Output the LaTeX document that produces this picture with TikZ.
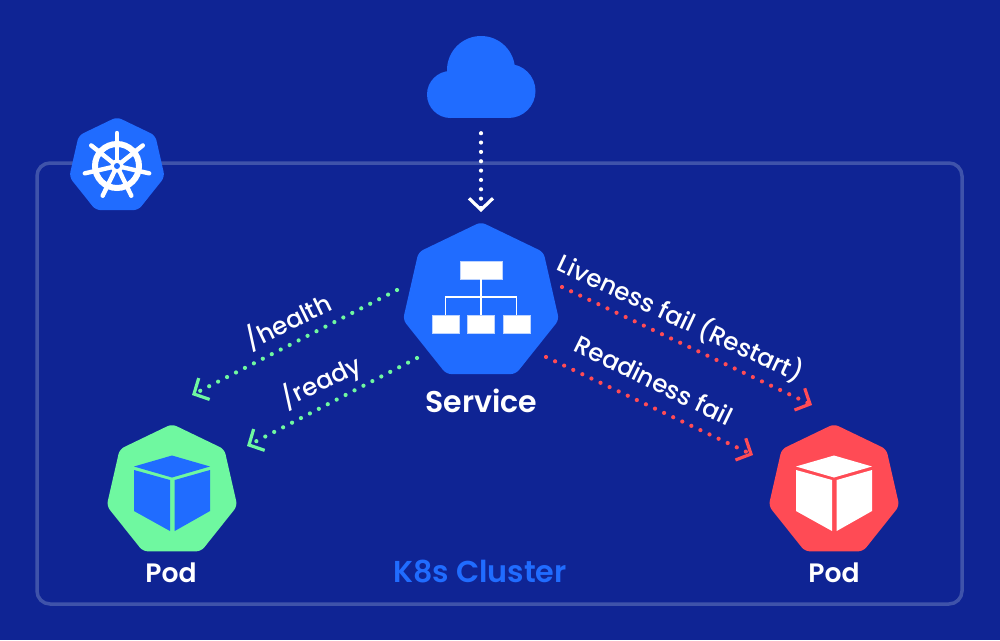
\documentclass[tikz,border=0pt]{standalone}
\usepackage{fontspec}
\setmainfont{Poppins}
\newfontfamily\mediumfont{Poppins Medium}
\newfontfamily\heavyfont{Poppins SemiBold}
\usetikzlibrary{arrows.meta,shapes.geometric}
\definecolor{navy}{HTML}{0F2494}
\definecolor{frame}{HTML}{3F53AA}
\definecolor{k8sblue}{HTML}{206CFF}
\definecolor{okgreen}{HTML}{6FF8A0}
\definecolor{badred}{HTML}{FF4B55}
\tikzset{
	hepta/.style={regular polygon, regular polygon sides=7, inner sep=0pt, outer sep=0pt, rounded corners=5pt, minimum size=#1},
	iconbox/.style={fill=white, draw=white!70!k8sblue, line width=0.6pt, inner sep=0pt, minimum height=18pt},
	flow/.style={line width=4.2pt, line cap=round, dash pattern=on 0pt off 10.05pt, color=#1,
		-{Straight Barb[length=11.5pt, width=24pt, line width=3.2pt, color=#1]}},
	probe/.style={text=white, font=\mediumfont\fontsize{24.6}{28}\selectfont, inner sep=0pt},
	caption/.style={text=white, font=\heavyfont\fontsize{#1}{#1}\selectfont, inner sep=0pt},
	cube/.pic={
		\fill [#1] (0,-35.5) -- (38,-24.5) -- (0,-13.5) -- (-38,-24.5) -- cycle;
		\fill [#1] (-38,-21) -- (-2,-11) -- (-2,40) -- (-38,20) -- cycle;
		\fill [#1] (2.7,-11) -- (38,-21) -- (38,20) -- (2.7,40) -- cycle;
	}
}
\begin{document}
\begin{tikzpicture}[x=1pt, y=-1pt]
	\fill [navy] (0,0) rectangle (1000,640);
	\useasboundingbox (0,0) rectangle (1000,640);
	\draw [frame, line width=3.5pt, rounded corners=13pt] (37,163) rectangle (962,604);
	% cloud
	\fill [k8sblue] (481,70) circle (34);
	\fill [k8sblue] (450.5,94.5) circle (23.5);
	\fill [k8sblue] (508.5,91) circle (27);
	\fill [k8sblue] (450,90) rectangle (508,118);
	\node (cloud) [inner sep=0pt, minimum width=109pt, minimum height=82pt] at (481,77) {};
	% helm badge
	\node (badge) [hepta=98pt, fill=k8sblue] at (117,166) {};
	\draw [white, line width=6pt] (badge.center) circle (22);
	\foreach \k in {0,...,6} {
		\draw [white, line width=4.4pt, line cap=round] (badge.center) -- ++({-90+\k*360/7}:33);
	}
	\fill [white] (badge.center) circle (6.5);
	\fill [k8sblue] (badge.center) circle (3);
	% service
	\node (service) [hepta=160pt, fill=k8sblue] at (481,302) {};
	\node (root) [iconbox, minimum width=42pt] at (481,270) {};
	\node (leafa) [iconbox, minimum width=27pt] at (445.7,324) {};
	\node (leafb) [iconbox, minimum width=27pt] at (481,324) {};
	\node (leafc) [iconbox, minimum width=27pt] at (516.5,324) {};
	\draw [white, line width=1.4pt] (root.south) -- (leafb.north);
	\draw [white, line width=1.4pt] (leafa.north) |- (leafc.north |- 0,297) -- (leafc.north);
	\node (serviceLabel) [caption=30] at (481.5,401) {Service};
	% pods
	\node (podOk) [hepta=134pt, fill=okgreen] at (172,491) {};
	\pic at (podOk.center) {cube=k8sblue};
	\node (podOkLabel) [caption=26.6] at (171,573) {Pod};
	\node (podBad) [hepta=134pt, fill=badred] at (834,491) {};
	\pic at (podBad.center) {cube=white};
	\node (podBadLabel) [caption=26.6] at (834,573) {Pod};
	\node (clusterLabel) [text=k8sblue, font=\heavyfont\fontsize{30.2}{32}\selectfont, inner sep=0pt] at (480,572) {K8s Cluster};
	% connectors
	\draw [flow=white, dash pattern=on 0pt off 9.35pt, shorten <=15pt, shorten >=0pt] (cloud.south) -- (481,212);
	\draw [flow=okgreen] ([shift={(-84,-12)}]service.center) -- ([shift={(20,-96)}]podOk.center);
	\draw [flow=okgreen] ([shift={(-64,56)}]service.center) -- ([shift={(75,-45)}]podOk.center);
	\draw [flow=badred] ([shift={(81,-15)}]service.center) -- ([shift={(-22,-86)}]podBad.center);
	\draw [flow=badred] ([shift={(65,55)}]service.center) -- ([shift={(-81,-36)}]podBad.center);
	% probe labels
	\node (healthLabel) [probe, rotate=26] at (288,321) {/health};
	\node (readyLabel) [probe, rotate=26] at (321,382) {/ready};
	\node (livenessLabel) [probe, rotate=-25] at (681,318) {Liveness fail (Restart)};
	\node (readinessLabel) [probe, rotate=-26] at (654,380) {Readiness fail};
\end{tikzpicture}
\end{document}
